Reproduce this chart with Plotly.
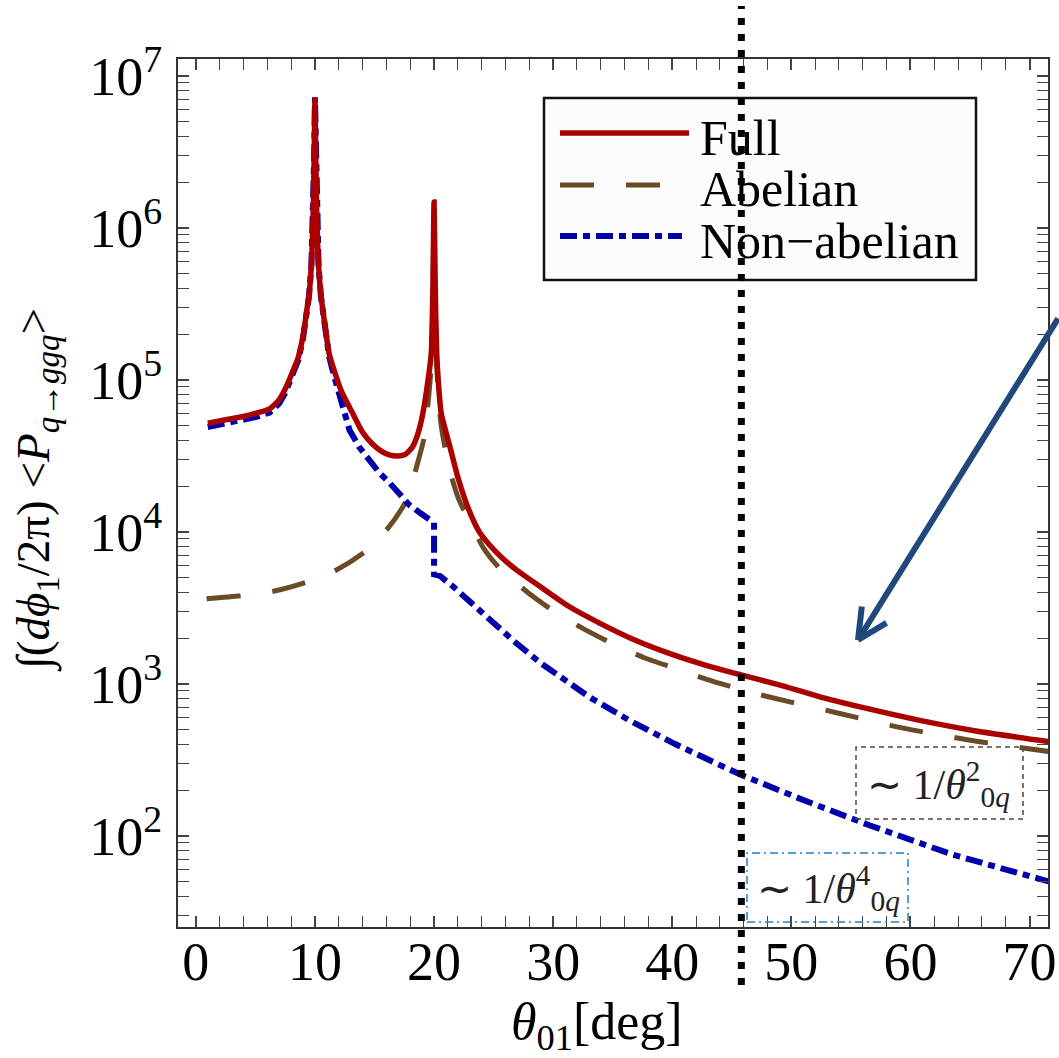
import plotly.graph_objects as go

# ---------------- data ----------------
full_theta = [1, 2, 3, 4, 5, 6.2, 7.0, 7.5, 8.1, 8.6, 9.0, 9.28, 9.5, 9.7, 9.85, 9.93, 10,
              10.07, 10.15, 10.3, 10.5, 10.8, 11.2, 11.7, 12.2, 13.1, 14.0, 14.8, 15.6, 16.3,
              17.0, 17.6, 18.2, 18.7, 19.06, 19.5, 19.77, 19.9, 20, 20.1, 20.22, 20.35, 20.6,
              21.3, 22.0, 22.84, 23.8, 24.7, 25.7, 27.0, 28.9, 31.3, 33.9, 36.8, 40.1, 42.9,
              45.7, 48.9, 52.4, 56.5, 60.8, 65.5, 71.6]
full_val = [5.19e4, 5.37e4, 5.56e4, 5.75e4, 6.03e4, 6.46e4, 7.41e4, 8.71e4, 1.12e5, 1.41e5,
            1.95e5, 2.75e5, 3.63e5, 5.75e5, 1.26e6, 2.82e6, 6.92e6, 2.82e6, 1.26e6, 5.75e5,
            3.63e5, 2.4e5, 1.48e5, 1.1e5, 8.51e4, 6.17e4, 4.52e4, 3.8e4, 3.39e4, 3.2e4,
            3.16e4, 3.24e4, 3.63e4, 4.57e4, 6.03e4, 1.0e5, 1.51e5, 3.98e5, 1.48e6, 3.98e5,
            1.51e5, 1.0e5, 6.03e4, 3.72e4, 2.29e4, 1.45e4, 1.0e4, 8.13e3, 6.76e3, 5.56e3,
            4.37e3, 3.24e3, 2.51e3, 1.95e3, 1.55e3, 1.32e3, 1.15e3, 988, 822, 684, 575,
            490, 417]

abel_theta = [0.9, 3.8, 6.5, 9.3, 11.8, 14.2, 16.1, 17.7, 18.5, 19.2, 19.5, 19.77, 19.9, 20,
              20.1, 20.22, 20.35, 20.6, 21.3, 22.1, 23.4, 24.1, 25.5, 27.9, 30.2, 32.6, 35.1,
              37.7, 40.3, 42.9, 45.2, 47.8, 53.8, 59.3, 64.9, 71.6]
abel_val = [3.63e3, 3.8e3, 4.07e3, 4.68e3, 5.62e3, 7.41e3, 1.05e4, 1.62e4, 2.63e4, 4.27e4,
            7.08e4, 1.26e5, 3.16e5, 1.26e6, 3.16e5, 1.26e5, 8.32e4, 5.01e4, 2.57e4, 1.62e4,
            1.02e4, 7.94e3, 5.75e3, 3.98e3, 2.95e3, 2.29e3, 1.82e3, 1.48e3, 1.26e3, 1.07e3,
            945, 832, 646, 513, 427, 359]

nonab_theta = [1, 2, 3, 4, 5, 6.2, 7, 7.5, 8.1, 8.6, 9.0, 9.28, 9.5, 9.7, 9.85, 9.93, 10,
               10.07, 10.15, 10.3, 10.5, 10.8, 11.2, 11.7, 12.2, 12.9, 13.7, 14.6, 15.4, 16.3,
               17.1, 17.9, 18.9, 19.9, 20, 20, 20.5, 21.6, 23, 24.5, 26.7, 28.9, 31, 33.1,
               36.4, 40.2, 44, 46, 51, 56.6, 63.6, 71, 71.6]
nonab_val = [4.9e4, 5.07e4, 5.25e4, 5.43e4, 5.69e4, 6.1e4, 7.0e4, 8.22e4, 1.07e5, 1.35e5,
             1.88e5, 2.69e5, 3.55e5, 5.69e5, 1.26e6, 2.88e6, 7.24e6, 2.88e6, 1.26e6, 5.69e5,
             3.55e5, 2.34e5, 1.41e5, 1.0e5, 7.24e4, 4.68e4, 3.63e4, 2.95e4, 2.45e4, 2.09e4,
             1.78e4, 1.51e4, 1.32e4, 1.17e4, 1.15e4, 5.25e3, 5.13e3, 4.37e3, 3.47e3, 2.69e3,
             1.91e3, 1.38e3, 1.05e3, 813, 575, 403, 292, 248, 172, 117, 75, 51.3, 50.1]

x_tickvals = [0, 10, 20, 30, 40, 50, 60, 70]
y_tickvals = [1e2, 1e3, 1e4, 1e5, 1e6, 1e7]
y_ticktext = ["10<sup>2</sup>", "10<sup>3</sup>", "10<sup>4</sup>",
              "10<sup>5</sup>", "10<sup>6</sup>", "10<sup>7</sup>"]
series_names = ["Full", "Abelian", "Non\u2212abelian"]
cutoff_theta = 45.8

# ---------------- styling ----------------
SERIF = "Liberation Serif, Times New Roman, serif"
RED = "#AA0000"
BROWN = "#6B4A26"
BLUE = "#0000AA"
ABEL_DASH = "34px,32px"
NONAB_DASH = "17px,6px,7px,6px"

# plot area in pixels: x 178..1048, y 59..927
L, R, T, B = 178, 1048, 59, 927
W, H = R - L, B - T


def px(x):
    return (x - L) / W


def py(y):
    return (B - y) / H


fig = go.Figure()
fig.add_trace(go.Scatter(x=abel_theta, y=abel_val, mode="lines", name=series_names[1],
                         line=dict(color=BROWN, width=5, dash=ABEL_DASH, shape="spline",
                                   smoothing=0.6), showlegend=False))
fig.add_trace(go.Scatter(x=nonab_theta, y=nonab_val, mode="lines", name=series_names[2],
                         line=dict(color=BLUE, width=6, dash=NONAB_DASH), showlegend=False))
fig.add_trace(go.Scatter(x=full_theta, y=full_val, mode="lines", name=series_names[0],
                         line=dict(color=RED, width=5.5, shape="spline", smoothing=0.6),
                         showlegend=False))

tick_common = dict(ticks="inside", ticklen=11, tickwidth=1.5, tickcolor="#444",
                   showline=True, linecolor="#333", linewidth=2, mirror="allticks",
                   showgrid=False, zeroline=False, automargin=False,
                   tickfont=dict(family=SERIF, size=54, color="black"))

fig.update_xaxes(range=[-1.5, 71.55], tickmode="array", tickvals=x_tickvals,
                 minor=dict(dtick=2, tick0=0, ticks="inside", ticklen=11, tickwidth=1.3,
                            tickcolor="#444", showgrid=False),
                 ticklabelstandoff=-14, ticklabeloverflow="allow", **tick_common)
fig.update_yaxes(type="log", range=[1.40, 7.112], tickmode="array", tickvals=y_tickvals,
                 ticktext=y_ticktext,
                 minor=dict(dtick="D1", ticks="inside", ticklen=11, tickwidth=1.3,
                            tickcolor="#444", showgrid=False),
                 ticklabelstandoff=3, **tick_common)

shapes = []
annotations = []

# legend box (manual)
shapes.append(dict(type="rect", xref="paper", yref="paper", x0=px(544), x1=px(976),
                   y0=py(280), y1=py(98), fillcolor="#fcfcfc",
                   line=dict(color="#111", width=2.5), layer="above"))
leg_rows = [(133, RED, 5.5, "solid", 689), (185, BROWN, 5, ABEL_DASH, 660),
            (236, BLUE, 6, NONAB_DASH, 682)]
leg_text_y = [138, 189, 241]
for (yy, col, wd, dsh, xend), name, ty in zip(leg_rows, series_names, leg_text_y):
    shapes.append(dict(type="line", xref="paper", yref="paper", x0=px(560), x1=px(xend),
                       y0=py(yy), y1=py(yy), line=dict(color=col, width=wd, dash=dsh),
                       layer="above"))
    annotations.append(dict(xref="paper", yref="paper", x=px(698), y=py(ty), xanchor="left",
                            yanchor="middle", text=name, showarrow=False,
                            font=dict(family=SERIF, size=50, color="black")))

# scaling boxes
shapes.append(dict(type="rect", xref="paper", yref="paper", x0=px(856), x1=px(1023),
                   y0=py(819), y1=py(747), line=dict(color="#4f4a35", width=1.5, dash="5px,4px"),
                   layer="above"))
shapes.append(dict(type="rect", xref="paper", yref="paper", x0=px(747), x1=px(908),
                   y0=py(922), y1=py(853), line=dict(color="#1f7fd0", width=1.5,
                                                     dash="8px,4px,2px,4px"),
                   layer="above"))
annotations.append(dict(xref="paper", yref="paper", x=px(938), y=py(784), xanchor="center",
                        yanchor="middle", showarrow=False,
                        text="\u223c 1/<i>\u03b8</i><sup>2</sup><sub>0<i>q</i></sub>",
                        font=dict(family=SERIF, size=42, color="#222")))
annotations.append(dict(xref="paper", yref="paper", x=px(828), y=py(888), xanchor="center",
                        yanchor="middle", showarrow=False,
                        text="\u223c 1/<i>\u03b8</i><sup>4</sup><sub>0<i>q</i></sub>",
                        font=dict(family=SERIF, size=42, color="#222")))

# vertical dotted cut line (extends outside the frame)
shapes.append(dict(type="line", xref="x", yref="paper", x0=cutoff_theta, x1=cutoff_theta,
                   y0=py(985), y1=py(6), line=dict(color="black", width=7, dash="7px,9px"),
                   layer="above"))

# arrow (shaft + two arms)
ARROW = "#1F497D"
tipx, tipy = px(858), py(640)
for axo, ayo in [(201, -323), (4, -35), (30, -18)]:
    annotations.append(dict(xref="paper", yref="paper", x=tipx, y=tipy, ax=axo, ay=ayo,
                            showarrow=True, arrowhead=0, arrowwidth=6, arrowcolor=ARROW,
                            text=""))

# axis titles
annotations.append(dict(xref="paper", yref="paper", x=px(597), y=py(1025), xanchor="center",
                        yanchor="middle", showarrow=False,
                        text="<i>\u03b8</i><sub>01</sub>[deg]",
                        font=dict(family=SERIF, size=52, color="black")))
annotations.append(dict(xref="paper", yref="paper", x=px(36), y=py(490), xanchor="center",
                        yanchor="middle", showarrow=False, textangle=-90,
                        text="\u222b(<i>d\u03d5</i><sub>1</sub>/2\u03c0) &lt;<i>P</i>"
                             "<sub><i>q</i>\u2192<i>ggq</i></sub>&gt;",
                        font=dict(family=SERIF, size=47, color="black")))

fig.update_layout(width=1059, height=1058, autosize=False,
                  margin=dict(l=L, r=1059 - R, t=T, b=1058 - B, autoexpand=False),
                  paper_bgcolor="white", plot_bgcolor="white",
                  shapes=shapes, annotations=annotations, showlegend=False)

fig.write_html("out.html")
